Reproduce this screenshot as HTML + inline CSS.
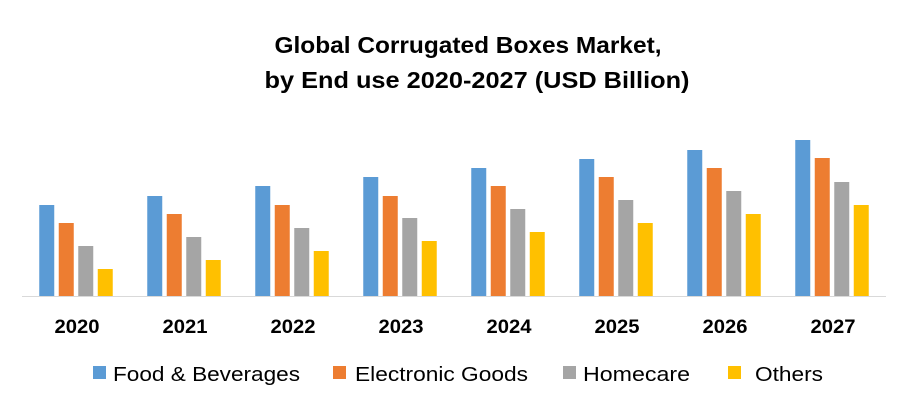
<!DOCTYPE html>
<html><head><meta charset="utf-8"><style>
body{margin:0;background:#fff;}
svg{display:block;font-family:"Liberation Sans",sans-serif;}
</style></head><body>
<svg id="chart" width="908" height="408">
<text x="468" y="53" text-anchor="middle" font-size="23" font-weight="bold" fill="#000" textLength="387" lengthAdjust="spacingAndGlyphs">Global Corrugated Boxes Market,</text>
<text x="477" y="88" text-anchor="middle" font-size="23" font-weight="bold" fill="#000" textLength="425" lengthAdjust="spacingAndGlyphs">by End use 2020-2027 (USD Billion)</text>
<g id="bars"></g>
<line x1="22" y1="296.5" x2="886" y2="296.5" stroke="#d9d9d9" stroke-width="1"/>
<g id="xlabels"></g>
<g id="legend"></g>
</svg>
<script>
const categories=["2020","2021","2022","2023","2024","2025","2026","2027"];
const food=[91,100,110,119,128,137,146,156];
const electronic=[73,82,91,100,110,119,128,138];
const homecare=[50,59,68,78,87,96,105,114];
const others=[27,36,45,55,64,73,82,91];
const seriesNames=["Food & Beverages","Electronic Goods","Homecare","Others"];
const seriesData=[food,electronic,homecare,others];
const colors=["#5b9bd5","#ed7d31","#a5a5a5","#ffc000"];
const NS="http://www.w3.org/2000/svg";
const x0=22,bandW=108,baseY=296,barW=15,barStep=19.5;
const yScale=v=>baseY-v*1.0;
const xBand=i=>x0+i*bandW+bandW/2;
const bars=document.getElementById('bars');
categories.forEach((c,i)=>{
 seriesData.forEach((s,j)=>{
  const r=document.createElementNS(NS,'rect');
  const x=xBand(i)-(4*barStep-(barStep-barW))/2+j*barStep;
  r.setAttribute('x',x);r.setAttribute('y',yScale(s[i]));
  r.setAttribute('width',barW);r.setAttribute('height',baseY-yScale(s[i]));
  r.setAttribute('fill',colors[j]);
  
  
  bars.appendChild(r);
 });
 const t=document.createElementNS(NS,'text');
 t.setAttribute('x',xBand(i)+1);t.setAttribute('y',333);
 t.setAttribute('text-anchor','middle');t.setAttribute('font-size','19');t.setAttribute('font-weight','bold');
 t.setAttribute('textLength','45');t.setAttribute('lengthAdjust','spacingAndGlyphs');
 t.textContent=c;
 
 
 document.getElementById('xlabels').appendChild(t);
});
const legX=[93,333,563,728];
const legTX=[113,355,583,755];
const legW=[187,173,107,68];
const legend=document.getElementById('legend');
seriesNames.forEach((n,j)=>{
 const r=document.createElementNS(NS,'rect');
 r.setAttribute('x',legX[j]);r.setAttribute('y',366);r.setAttribute('width',13);r.setAttribute('height',13);
 r.setAttribute('fill',colors[j]);
 
 
 legend.appendChild(r);
 const t=document.createElementNS(NS,'text');
 t.setAttribute('x',legTX[j]);t.setAttribute('y',381);t.setAttribute('font-size','20');
 t.setAttribute('textLength',legW[j]);t.setAttribute('lengthAdjust','spacingAndGlyphs');
 t.textContent=n;
 
 
 legend.appendChild(t);
});
</script>
</body></html>
